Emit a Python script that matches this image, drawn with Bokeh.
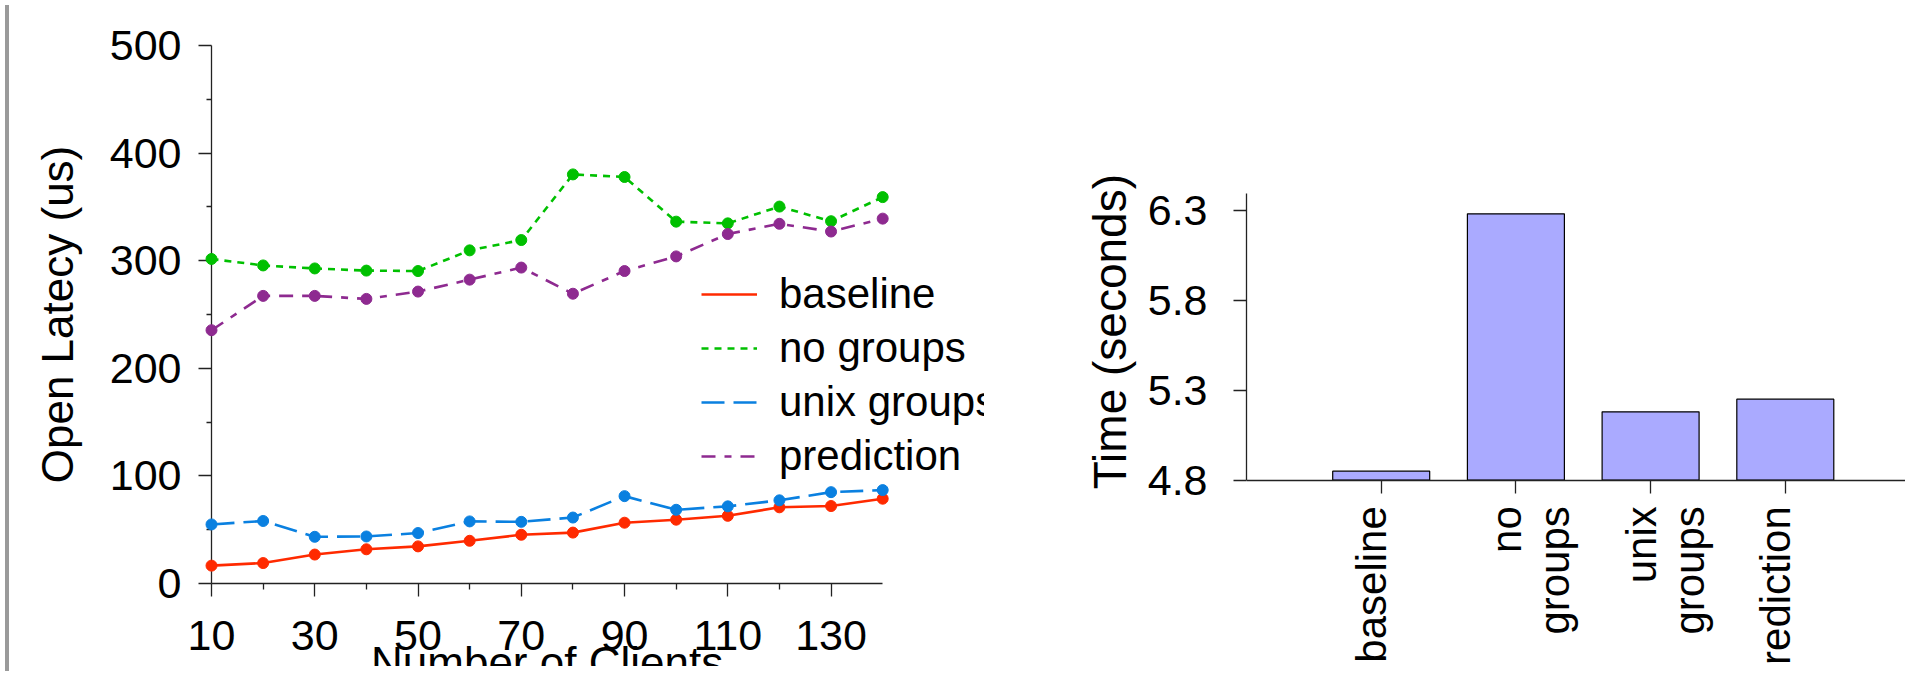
import math
from bokeh.plotting import figure
from bokeh.models import Range1d, FixedTicker, Legend, LegendItem, Div
from bokeh.core.properties import value
from bokeh.layouts import row
from bokeh.embed import file_html
from bokeh.resources import INLINE

# ---------------- data ----------------
clients = [10, 20, 30, 40, 50, 60, 70, 80, 90, 100, 110, 120, 130, 140]
baseline = [16.6, 19.0, 26.9, 31.8, 34.5, 39.7, 45.3, 47.3, 56.5, 59.3, 62.9, 70.8, 72.0, 78.8]
no_groups = [301.6, 295.6, 292.8, 290.8, 290.4, 309.6, 319.2, 380.2, 377.8, 336.3, 334.7, 350.3, 336.7, 359.1]
unix_groups = [54.9, 58.1, 43.4, 43.7, 46.9, 57.7, 57.3, 61.3, 81.2, 68.5, 71.7, 77.3, 84.9, 86.8]
prediction = [235.4, 267.3, 267.3, 264.5, 271.3, 282.4, 293.6, 269.3, 290.4, 304.0, 324.8, 334.3, 327.1, 339.1]

series_names = ["baseline", "no groups", "unix groups", "prediction"]
x_major_ticks = [10, 30, 50, 70, 90, 110, 130]
x_minor_ticks = [20, 40, 60, 80, 100, 120]
y_major_ticks = [0, 100, 200, 300, 400, 500]
y_minor_ticks = [50, 150, 250, 350, 450]
x_title = "Number of Clients"
y_title = "Open Latecy (us)"

bar_labels = ["baseline", "no\ngroups", "unix\ngroups", "prediction"]
bar_times = [4.85, 6.28, 5.18, 5.25]
bar_y_ticks = [4.8, 5.3, 5.8, 6.3]
bar_y_top = 6.395
bar_y_title = "Time (seconds)"

FONT = "Liberation Sans"
TICK_SIZE = "43px"
LABEL_SIZE = "44px"
H = 666
TOP, BOTTOM = 45, 83


def style_axis(ax):
    ax.axis_line_color = "#222222"
    ax.axis_line_width = 1.3
    ax.major_tick_line_color = "#222222"
    ax.minor_tick_line_color = "#222222"
    ax.major_tick_line_width = 1.3
    ax.minor_tick_line_width = 1.3
    ax.major_tick_in = 0
    ax.minor_tick_in = 0
    ax.major_tick_out = 13
    ax.minor_tick_out = 6
    ax.major_label_text_font = FONT
    ax.major_label_text_font_size = TICK_SIZE
    ax.major_label_text_color = "black"
    ax.axis_label_text_font = FONT
    ax.axis_label_text_font_size = LABEL_SIZE
    ax.axis_label_text_font_style = "normal"
    ax.axis_label_text_color = "black"


# ---------------- left: line chart ----------------
px_per_client = 5.163
left_w = 970
left_border = 197
x_end = clients[0] + (left_w - left_border) / px_per_client

p1 = figure(width=left_w, height=H, output_backend="svg", toolbar_location=None,
            x_range=Range1d(clients[0], x_end), y_range=Range1d(0, 500),
            min_border_left=left_border, min_border_right=0,
            min_border_top=TOP, min_border_bottom=BOTTOM)
p1.outline_line_color = None
p1.xgrid.visible = False
p1.ygrid.visible = False

colors = ["#ff2a00", "#00c000", "#0a80e0", "#8e2a90"]
dashes = ["solid", "7 6", "23 9", "14 9 7 9"]
values = [baseline, no_groups, unix_groups, prediction]

items = []
for name, vals, col, dash in zip(series_names, values, colors, dashes):
    ln = p1.line(clients, vals, line_color=col, line_width=2.6, line_dash=dash, level="overlay")
    p1.scatter(clients, vals, size=11, fill_color=col, line_color=col, level="overlay")
    items.append(LegendItem(label=name, renderers=[ln]))

legend = Legend(items=items, location=(490, 100))
legend.padding = 0
legend.margin = 0
legend.spacing = 0
legend.glyph_width = 56
legend.glyph_height = 54
legend.label_height = 54
legend.label_standoff = 22
legend.label_text_font = FONT
legend.label_text_font_size = "42px"
legend.label_text_color = "black"
legend.border_line_color = None
legend.background_fill_alpha = 0
p1.add_layout(legend, "center")

xa = p1.xaxis[0]
ya = p1.yaxis[0]
style_axis(xa)
style_axis(ya)
xa.bounds = (clients[0], clients[-1])
xa.ticker = FixedTicker(ticks=x_major_ticks, minor_ticks=x_minor_ticks)
ya.ticker = FixedTicker(ticks=y_major_ticks, minor_ticks=y_minor_ticks)
ya.minor_tick_out = 5
ya.axis_label = y_title
xa.major_label_standoff = 24
ya.major_label_standoff = 17
ya.axis_label_standoff = 25

# x-axis title drawn as text (it runs past the bottom edge in the reference)
p1.text(x=[(clients[0] + clients[-1]) / 2], y=[0], text=[x_title],
        text_font=value(FONT), text_font_size=LABEL_SIZE, text_color="black",
        text_align="center", text_baseline="top", y_offset=54, level="overlay")

# ---------------- right: bar chart ----------------
positions = list(range(1, len(bar_times) + 1))
right_w = 921
right_border = 262
px_per_cat = 134.7
px_per_sec = 180.0
frame_h = H - TOP - BOTTOM
y_top = 7.215
y_bot = y_top - frame_h / px_per_sec
x_start = 0

p2 = figure(width=right_w, height=H, output_backend="svg", toolbar_location=None,
            x_range=Range1d(x_start, x_start + (right_w - right_border) / px_per_cat),
            y_range=Range1d(y_bot, y_top),
            min_border_left=right_border, min_border_right=0,
            min_border_top=TOP, min_border_bottom=BOTTOM)
p2.outline_line_color = None
p2.xgrid.visible = False
p2.ygrid.visible = False
p2.vbar(x=positions, top=bar_times, bottom=bar_y_ticks[0], width=0.72,
        fill_color="#aaaaff", line_color="black", line_width=1.2)

xb = p2.xaxis[0]
yb = p2.yaxis[0]
style_axis(xb)
style_axis(yb)
xb.fixed_location = bar_y_ticks[0]
xb.ticker = FixedTicker(ticks=positions, minor_ticks=[])
xb.major_label_overrides = {pos: "" for pos in positions}
yb.ticker = FixedTicker(ticks=bar_y_ticks, minor_ticks=[])
yb.bounds = (bar_y_ticks[0], bar_y_top)
yb.major_label_standoff = 26

# y-axis title, centred on the drawn part of the axis
p2.text(x=[x_start], y=[(bar_y_ticks[0] + bar_y_top) / 2], text=[bar_y_title],
        angle=math.pi / 2, text_align="center", text_baseline="middle",
        text_font=value(FONT), text_font_size="46px", text_color="black",
        x_offset=-137, y_offset=-5, level="overlay")

# category labels, rotated, hanging below the axis
p2.text(x=positions, y=[bar_y_ticks[0]] * len(positions), text=bar_labels,
        angle=math.pi / 2, text_align="right", text_baseline="top",
        text_font=value(FONT), text_font_size="42px", text_color="black",
        text_line_height=1.03, x_offset=-33, y_offset=26, level="overlay")

border = Div(width=4, height=H, styles={"background-color": "#9a9a9a"})

layout = row(border, p1, p2, spacing=0)
open("out.html", "w").write(file_html(layout, INLINE))
